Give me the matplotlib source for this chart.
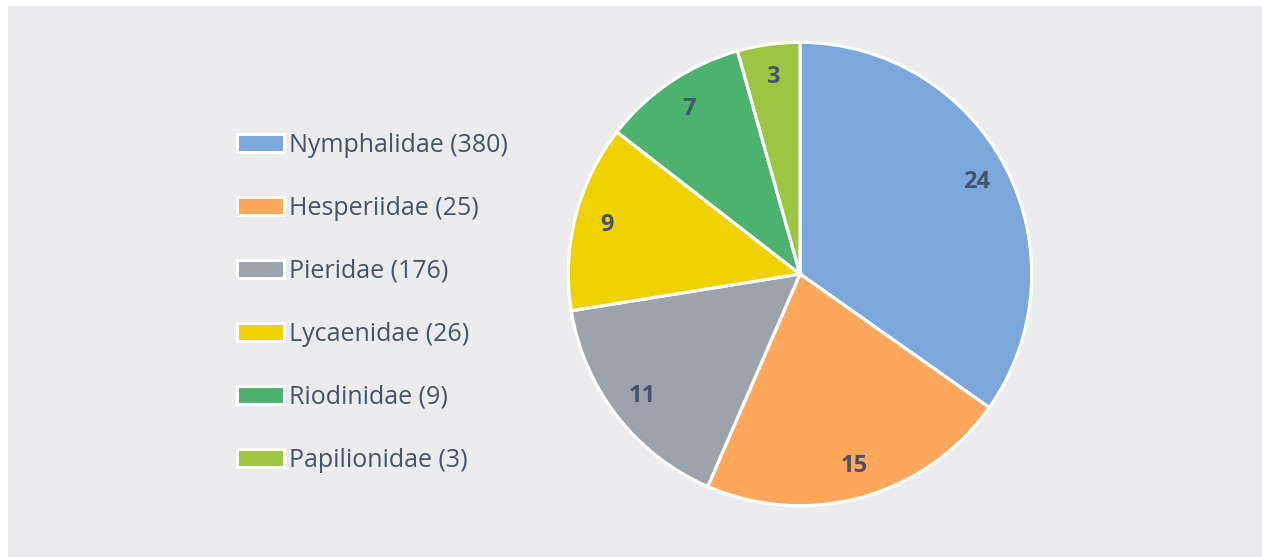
import matplotlib.pyplot as plt
from matplotlib.patches import Patch, Rectangle

plt.rcParams['font.family'] = ['Open Sans', 'DejaVu Sans']

families = ['Nymphalidae', 'Hesperiidae', 'Pieridae', 'Lycaenidae', 'Riodinidae', 'Papilionidae']
species = [380, 25, 176, 26, 9, 3]
genera = [24, 15, 11, 9, 7, 3]
colors = ['#7BA7DA', '#FFA75A', '#9CA3AD', '#F0D200', '#4CB270', '#9DC542']
text_col = '#44546A'
bg = '#ECECEF'

fig = plt.figure(figsize=(12.62, 5.57), dpi=100)
fig.patches.append(Rectangle((8 / 1262, 0), 1.1, 551 / 557, transform=fig.transFigure,
                             facecolor=bg, edgecolor='none', zorder=-5))

ax = fig.add_axes([566 / 1262, 49 / 557, 468 / 1262, 468 / 557])
total = sum(genera)
wedges, texts, autotexts = ax.pie(
    genera, colors=colors, startangle=90, counterclock=False,
    autopct=lambda p: f'{round(p * total / 100):.0f}', pctdistance=0.86,
    wedgeprops=dict(edgecolor='white', linewidth=2.3),
    textprops=dict(color=text_col, fontsize=17, fontweight='bold'))
ax.set_xlim(-1.01, 1.01)
ax.set_ylim(-1.01, 1.01)

handles = [Patch(facecolor=c, edgecolor='white', linewidth=2.2) for c in colors]
labels = [f'{f} ({n})' for f, n in zip(families, species)]
leg = fig.legend(handles, labels, loc='center left', bbox_to_anchor=(224 / 1262, 1 - 303 / 557),
                 frameon=False, fontsize=18, handlelength=1.9, handleheight=0.75,
                 labelspacing=1.52, handletextpad=0.2, borderpad=0)
for t in leg.get_texts():
    t.set_color(text_col)

fig.savefig('out.png', dpi=100, facecolor='white')
